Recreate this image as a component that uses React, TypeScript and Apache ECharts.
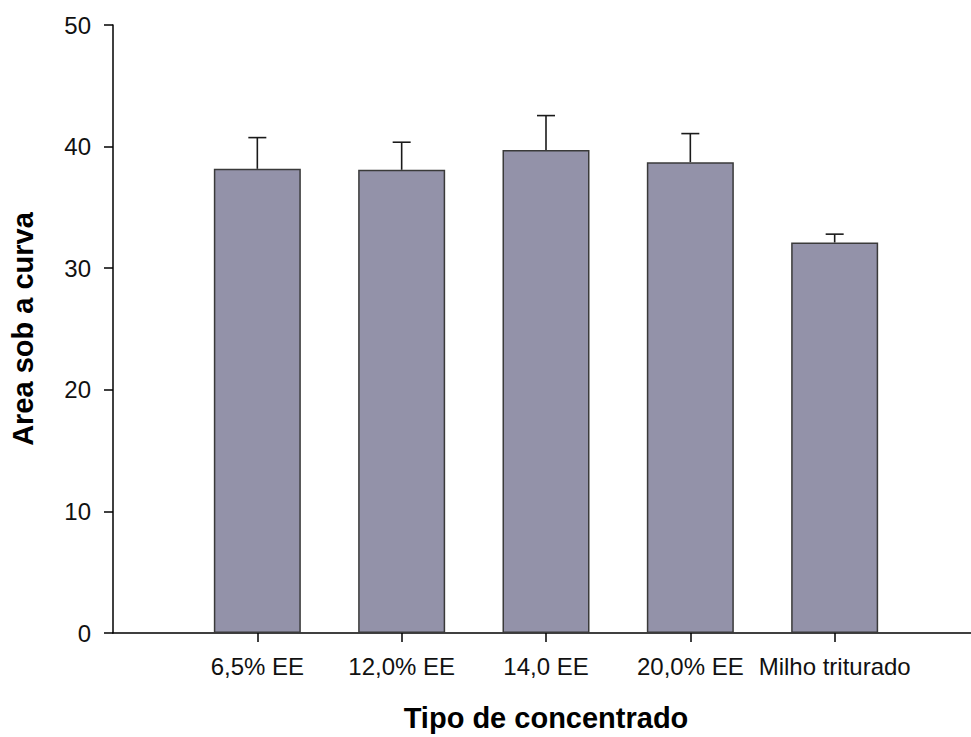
import React, { useEffect, useRef } from "react";
import * as echarts from "echarts";

const categories = ["6,5% EE", "12,0% EE", "14,0 EE", "20,0% EE", "Milho triturado"];
const means = [38.17, 38.09, 39.73, 38.72, 32.11];
const upperErrors = [40.74, 40.36, 42.55, 41.07, 32.8];
const yTicks = [0, 10, 20, 30, 40, 50];

const positions = categories.map((_, i) => i + 1);

export default function App() {
  const ref = useRef<HTMLDivElement>(null);
  useEffect(() => {
    if (!ref.current) return;
    const chart = echarts.init(ref.current, null, { renderer: "svg" });
    const font = "'Liberation Sans', Arial, sans-serif";
    chart.setOption({
      animation: false,
      backgroundColor: "#ffffff",
      grid: { left: 109, right: 0, top: 25, bottom: 103, containLabel: false },
      xAxis: {
        type: "value",
        min: 0,
        max: 6,
        interval: 1,
        name: "Tipo de concentrado",
        nameLocation: "middle",
        nameGap: 70,
        nameTextStyle: { fontFamily: font, fontSize: 29, fontWeight: "bold", color: "#000" },
        axisLine: { show: true, onZero: false, lineStyle: { color: "#000", width: 1.5 } },
        axisTick: { show: true, length: 9, customValues: positions, lineStyle: { color: "#000", width: 1.5 } },
        axisLabel: {
          customValues: positions,
          margin: 21,
          fontFamily: font,
          fontSize: 24,
          color: "#111",
          formatter: (v: number) => categories[Math.round(v) - 1] ?? "",
        },
        splitLine: { show: false },
      },
      yAxis: {
        type: "value",
        min: yTicks[0],
        max: yTicks[yTicks.length - 1],
        interval: 10,
        name: "Area sob a curva",
        nameLocation: "middle",
        nameGap: 76,
        nameTextStyle: { fontFamily: font, fontSize: 29, fontWeight: "bold", color: "#000" },
        axisLine: { show: true, lineStyle: { color: "#000", width: 1.5 } },
        axisTick: { show: true, length: 9, lineStyle: { color: "#000", width: 1.5 } },
        axisLabel: { margin: 22, fontFamily: font, fontSize: 24, color: "#111" },
        splitLine: { show: false },
      },
      series: [
        {
          type: "bar",
          barWidth: 87,
          data: positions.map((p, i) => [p, means[i]]),
          itemStyle: { color: "#9392a9", borderColor: "#3a3a3a", borderWidth: 1.5 },
          z: 2,
        },
        {
          type: "custom",
          data: positions.map((p, i) => [p, means[i], upperErrors[i]]),
          z: 1,
          renderItem: (params: any, api: any) => {
            const x = api.value(0);
            const base = api.coord([x, api.value(1)]);
            const top = api.coord([x, api.value(2)]);
            const half = 9;
            const style = { stroke: "#1a1a1a", lineWidth: 1.6, fill: "none" };
            return {
              type: "group",
              children: [
                { type: "line", shape: { x1: base[0], y1: base[1], x2: top[0], y2: top[1] }, style },
                { type: "line", shape: { x1: top[0] - half, y1: top[1], x2: top[0] + half, y2: top[1] }, style },
              ],
            };
          },
        },
      ],
    });
    return () => chart.dispose();
  }, []);
  return (
    <div
      ref={ref}
      style={{ position: "fixed", left: 0, top: 0, width: 979, height: 737, background: "#fff" }}
    />
  );
}
